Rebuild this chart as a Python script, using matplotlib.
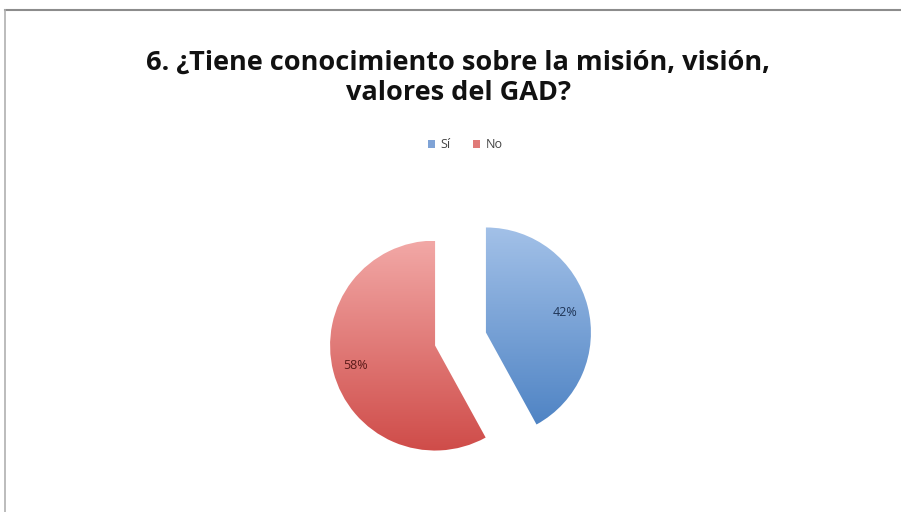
import numpy as np
import matplotlib
matplotlib.use('Agg')
import matplotlib.pyplot as plt
from matplotlib.colors import LinearSegmentedColormap
from matplotlib.patches import Patch
from matplotlib.lines import Line2D

plt.rcParams['font.family'] = ['Open Sans', 'DejaVu Sans']

titulo = '6. ¿Tiene conocimiento sobre la misión, visión,\nvalores del GAD?'
categorias = ['Sí', 'No']
porcentajes = [42, 58]

# degradados tipo Office (claro arriba, oscuro abajo)
grad_colores = [('#a3c1e8', '#4a80c2'), ('#f2a8a6', '#cf4c49')]
etiqueta_colores = ['#1f3557', '#5a1a19']
leyenda_colores = ['#7fa3d6', '#e07a78']

W, H = 901, 512
fig = plt.figure(figsize=(W / 100, H / 100), dpi=100)

# ejes del pastel: radio 1 = 105 px, centro en (460.5, 339) px
lim = 1.6
px = 105 * lim
cx_px, cy_px = 460.5, 339
ax = fig.add_axes([(cx_px - px) / W, (H - cy_px - px) / H, 2 * px / W, 2 * px / H])

wedges, _, textos = ax.pie(porcentajes, radius=1,
                           startangle=90, counterclock=False,
                           explode=[0.25, 0.25], autopct='%1.0f%%',
                           pctdistance=0.78,
                           textprops={'fontsize': 9})

for w, (c1, c2), t, tc in zip(wedges, grad_colores, textos, etiqueta_colores):
    w.set_facecolor('none')
    w.set_edgecolor('none')
    cmap = LinearSegmentedColormap.from_list('g', [c2, c1])
    cx, cy = w.center
    grad = np.linspace(0, 1, 256).reshape(-1, 1)
    im = ax.imshow(grad, cmap=cmap, origin='lower', aspect='auto',
                   extent=[cx - 1, cx + 1, cy - 1, cy + 1], zorder=1)
    im.set_clip_path(w)
    t.set_color(tc)
    t.set_zorder(3)

ax.set_xlim(-lim, lim)
ax.set_ylim(-lim, lim)
ax.set_aspect('equal')
ax.axis('off')

fig.text(458 / W, 1 - 78 / H, titulo, ha='center', va='center',
         fontsize=19.5, fontweight='bold', color='#111111', linespacing=1.2)

handles = [Patch(facecolor=c, edgecolor='none') for c in leyenda_colores]
fig.legend(handles, categorias, loc='center', bbox_to_anchor=(465 / W, 1 - 145 / H),
           ncol=2, frameon=False, fontsize=9, handlelength=0.6, handleheight=0.6,
           handletextpad=0.4, columnspacing=1.8, labelcolor='#444444')

# marco gris del gráfico
fig.add_artist(Line2D([5 / W, 1], [1 - 9.5 / H, 1 - 9.5 / H], color='#8c8c8c', lw=1.5))
fig.add_artist(Line2D([5 / W, 5 / W], [0, 1 - 9.5 / H], color='#b0b0b0', lw=1.2))

fig.savefig('out.png', dpi=100)
